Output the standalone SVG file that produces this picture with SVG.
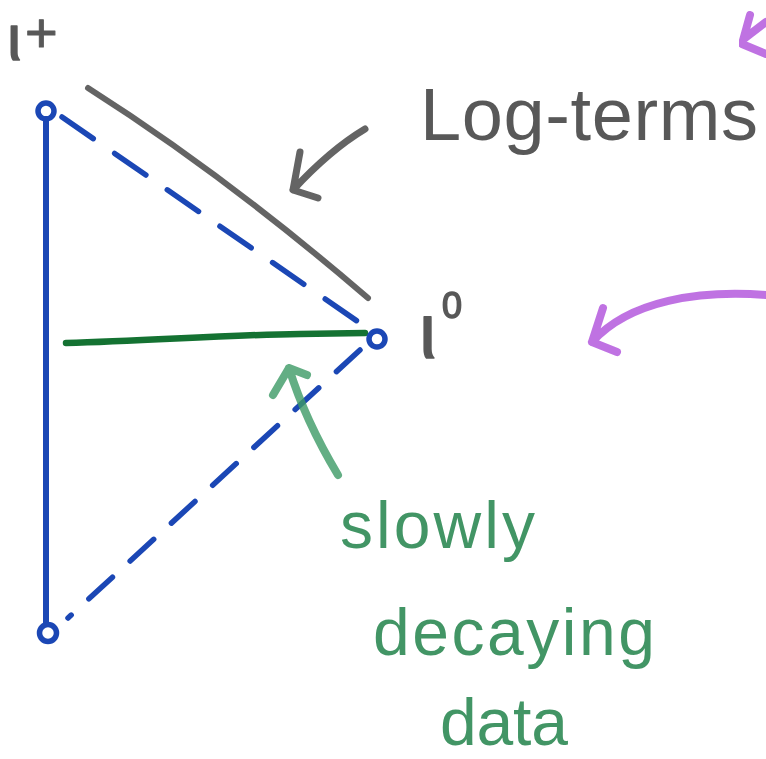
<svg xmlns="http://www.w3.org/2000/svg" width="766" height="759" viewBox="0 0 766 759">
  <defs>
    <filter id="soft" x="-10%" y="-10%" width="120%" height="120%">
      <feGaussianBlur stdDeviation="0.7"/>
    </filter>
  </defs>
  <style>
    .blue { fill: none; stroke: #1b47b5; stroke-linecap: round; stroke-linejoin: round; }
    .dash { stroke-dasharray: 38px 26px; }
    .dash2 { stroke-dasharray: 32px 24px; }
    .green { fill: none; stroke: #147232; stroke-linecap: round; }
    .pencil { fill: none; stroke: #4a4a4a; stroke-linecap: round; stroke-linejoin: round; opacity: 0.85; filter: url(#soft); }
    .garrow { fill: none; stroke: #3d9a66; stroke-linecap: round; stroke-linejoin: round; opacity: 0.8; filter: url(#soft); }
    .purple { fill: none; stroke: #b050dc; stroke-linecap: round; stroke-linejoin: round; opacity: 0.8; filter: url(#soft); }
    .gtext { font-family: "Liberation Sans", "DejaVu Sans", sans-serif; fill: #474747; opacity: 0.9; filter: url(#soft); }
    .thick { stroke: #474747; stroke-linejoin: round; }
    .ntext { font-family: "Liberation Sans", "DejaVu Sans", sans-serif; fill: #2f8a55; opacity: 0.9; filter: url(#soft); font-size: 66px; }
  </style>

  <g id="connectors">
    <path class="blue" stroke-width="6" d="M46,119 L46,624"/>
    <path class="blue dash" stroke-width="5.5" d="M62,117 L370,330"/>
    <path class="blue dash2" stroke-width="5.5" d="M360,350 L68,618"/>
    <path class="green" stroke-width="6.5" d="M66,343 C150,341 220,335 300,334 L365,333"/>
    <path class="pencil" stroke-width="6" d="M88,88 Q225,175 368,298"/>
    <path class="pencil" stroke-width="7" d="M365,129 Q330,150 293,190 M300,152 L293,190 L318,198"/>
    <path class="garrow" stroke-width="8" d="M338,475 Q305,420 289,368 M273,395 L289,368 L307,375"/>
    <path class="purple" stroke-width="8" d="M766,295 C700,290 630,300 592,342 M603,308 L592,342 L617,352"/>
    <path class="purple" stroke-width="8" d="M766,22 L745,38 M750,15 L742,44 L766,54"/>
  </g>

  <g id="i-plus">
    <circle class="blue" stroke-width="5.5" cx="46" cy="111" r="8"/>
    <text class="gtext thick" stroke-width="1.5" x="7" y="60" font-size="64">ι</text>
    <text class="gtext thick" stroke-width="1" x="25" y="52" font-size="56">+</text>
  </g>

  <g id="i-minus">
    <circle class="blue" stroke-width="5.5" cx="48" cy="633" r="8.5"/>
  </g>

  <g id="i-zero">
    <circle class="blue" stroke-width="5.5" cx="377" cy="339" r="8"/>
    <text class="gtext thick" stroke-width="1.5" x="419" y="358" font-size="77">ι</text>
    <text class="gtext thick" stroke-width="1.5" x="442" y="318" font-size="36">0</text>
  </g>

  <g id="log-terms">
    <text class="gtext" x="420" y="140" font-size="74" textLength="338" lengthAdjust="spacing">Log-terms</text>
  </g>

  <g id="slowly-decaying-data">
    <text class="ntext" x="340" y="548" textLength="195" lengthAdjust="spacing">slowly</text>
    <text class="ntext" x="373" y="655" textLength="282" lengthAdjust="spacing">decaying</text>
    <text class="ntext" x="440" y="745" textLength="128" lengthAdjust="spacing">data</text>
  </g>
</svg>
